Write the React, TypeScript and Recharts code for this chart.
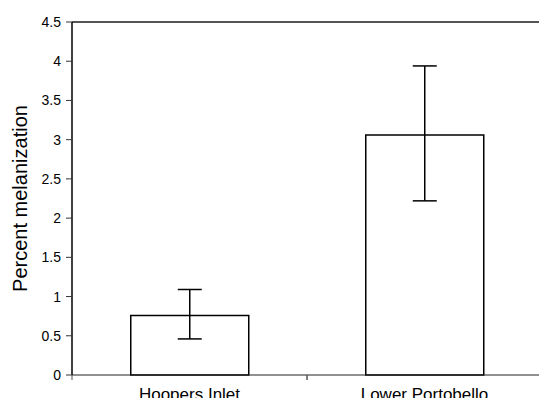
import { BarChart, Bar, XAxis, YAxis, ErrorBar, ReferenceLine } from 'recharts'

const sites = ['Hoopers Inlet', 'Lower Portobello']
const meanMelanization = [0.76, 3.06]
const errBelow = [0.3, 0.84]
const errAbove = [0.33, 0.88]
const yTicks = [0, 0.5, 1, 1.5, 2, 2.5, 3, 3.5, 4, 4.5]

const data = sites.map((site, i) => ({
  site,
  mean: meanMelanization[i],
  err: [errBelow[i], errAbove[i]],
}))

const FONT = '"Liberation Sans", Arial, sans-serif'

// category label centred in band, small tick marks at the band edges
const SiteTick = (props: any) => {
  const { x, y, payload, width, visibleTicksCount } = props
  const half = width / (visibleTicksCount || 2) / 2
  return (
    <g>
      <line x1={x - half} x2={x - half} y1={y} y2={y + 5} stroke="#555" strokeWidth={1} />
      <line x1={x + half} x2={x + half} y1={y} y2={y + 5} stroke="#555" strokeWidth={1} />
      <text x={x} y={y + 13} dy="0.71em" textAnchor="middle" fontSize={17} fontFamily={FONT} fill="#000">
        {payload.value}
      </text>
    </g>
  )
}

const YLabel = (props: any) => {
  const { viewBox } = props
  const cy = viewBox.y + viewBox.height / 2
  const cx = 20
  return (
    <text
      x={cx} y={cy} textAnchor="middle" dominantBaseline="central"
      transform={`rotate(-90, ${cx}, ${cy})`}
      fontSize={20} fontFamily={FONT} fill="#000"
    >
      Percent melanization
    </text>
  )
}

export default function App() {
  return (
    <div style={{ position: 'absolute', left: 0, top: 0, width: 539, height: 398, overflow: 'hidden', background: '#fff' }}>
      <BarChart
        width={542}
        height={420}
        data={data}
        margin={{ top: 22, right: 0, bottom: 0, left: 0 }}
        barCategoryGap="25%"
      >
        <XAxis
          dataKey="site"
          height={45}
          tickSize={0}
          tickMargin={0}
          tickLine={false}
          axisLine={{ stroke: '#222', strokeWidth: 1 }}
          tick={<SiteTick />}
          interval={0}
        />
        <YAxis
          width={72}
          domain={[0, 4.5]}
          ticks={yTicks}
          interval={0}
          tickSize={6}
          tickMargin={5}
          axisLine={{ stroke: '#000', strokeWidth: 1.5 }}
          tickLine={{ stroke: '#333' }}
          tick={{ fontSize: 14, fontFamily: FONT, fill: '#000' }}
          label={<YLabel />}
        />
        <ReferenceLine y={4.5} stroke="#555" strokeWidth={2} ifOverflow="visible" />
        <Bar dataKey="mean" fill="#fff" stroke="#000" strokeWidth={1.5} isAnimationActive={false}>
          <ErrorBar dataKey="err" width={12} stroke="#000" strokeWidth={1.5} direction="y" />
        </Bar>
      </BarChart>
    </div>
  )
}
